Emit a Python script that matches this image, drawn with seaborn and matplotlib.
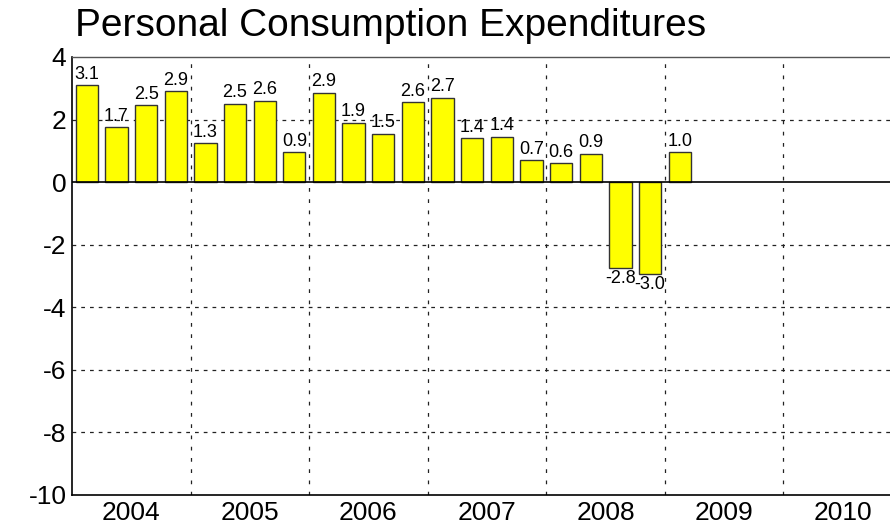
import matplotlib
matplotlib.use("Agg")
import matplotlib.pyplot as plt
import seaborn as sns
import numpy as np
import pandas as pd

years = ["2004", "2005", "2006", "2007", "2008", "2009", "2010"]
quarters = [f"{y}Q{q}" for y in years for q in range(1, 5)]
values = [3.1, 1.7, 2.5, 2.9,
          1.3, 2.5, 2.6, 0.9,
          2.9, 1.9, 1.5, 2.6,
          2.7, 1.4, 1.4, 0.7,
          0.6, 0.9, -2.8, -3.0,
          1.0]
heights = [3.1, 1.75, 2.45, 2.9,
           1.25, 2.5, 2.6, 0.95,
           2.85, 1.9, 1.55, 2.55,
           2.7, 1.4, 1.45, 0.7,
           0.6, 0.9, -2.75, -2.95,
           0.95]
yticks = [4, 2, 0, -2, -4, -6, -8, -10]
title = "Personal Consumption Expenditures"

sns.set_theme(style="white")
plt.rcParams['font.family'] = ['Liberation Sans', 'DejaVu Sans']
plt.rcParams['axes.unicode_minus'] = False
plt.rcParams['text.color'] = 'black'
plt.rcParams['xtick.color'] = 'black'
plt.rcParams['ytick.color'] = 'black'

df = pd.DataFrame({"quarter": quarters,
                   "value": heights + [np.nan] * (len(quarters) - len(heights))})

fig = plt.figure(figsize=(8.9, 5.31), dpi=100)
ax = fig.add_axes([72/890, 36/531, 830/890, 438/531])

sns.barplot(data=df, x="quarter", y="value", order=quarters, color="#FFFF00",
            saturation=1, width=0.75, edgecolor="#333333", linewidth=1.0, ax=ax,
            zorder=2)

ax.set_xlim(-0.5, len(quarters) - 0.5)
ax.set_ylim(-10, 4)
ax.set_yticks(yticks)
ax.set_yticklabels([str(t) for t in yticks], fontsize=19, color="black")
ax.set_xticks([4 * i + 1.5 for i in range(len(years))])
ax.set_xticklabels(years, fontsize=19, color="black")
ax.tick_params(axis="both", length=0, pad=4)
ax.set_xlabel("")
ax.set_ylabel("")

# grid
for t in yticks[1:-1]:
    if t != 0:
        ax.axhline(t, color="#222222", lw=0.9, ls=(0, (3, 4)), zorder=1)
for i in range(1, len(years)):
    ax.axvline(4 * i - 0.5, color="#222222", lw=0.9, ls=(0, (3, 6)), zorder=1)
ax.axhline(0, color="black", lw=1.2, zorder=3)

for s in ["left", "bottom"]:
    ax.spines[s].set_color("black")
    ax.spines[s].set_linewidth(1.2)
ax.spines["top"].set_color("#555555")
ax.spines["top"].set_linewidth(1.0)
ax.spines["right"].set_visible(False)

bars = [p for p in ax.patches][:len(values)]
for p, v in zip(bars, values):
    cx = p.get_x() + p.get_width() / 2
    h = p.get_height()
    if v >= 0:
        ax.text(cx, h + 0.08, f"{v:.1f}", ha="center", va="bottom", fontsize=13,
                color="black", zorder=0)
    else:
        ax.text(cx, h - 0.05, f"{v:.1f}", ha="center", va="top", fontsize=13,
                color="black", zorder=4)

fig.text(75/890, 1 - 8/531, title, ha="left", va="top", fontsize=28, color="black")

fig.savefig("out.png", dpi=100)
